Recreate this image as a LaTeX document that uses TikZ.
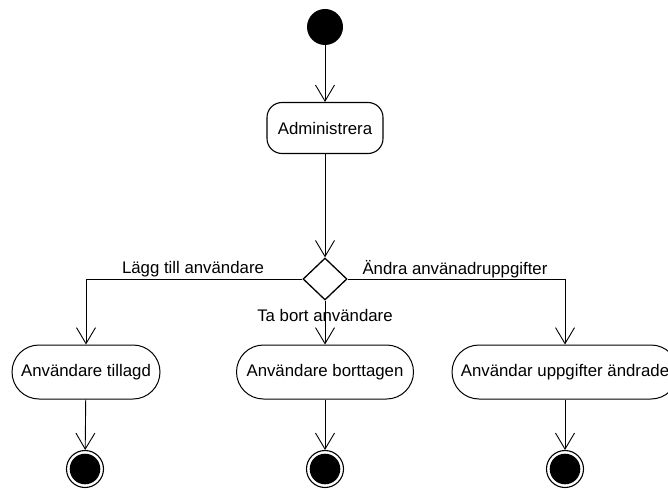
\documentclass[tikz,border=0pt]{standalone}
\usepackage{fontspec}
\setmainfont{Liberation Sans}
\usetikzlibrary{positioning, shapes.geometric, arrows.meta, calc}

\begin{document}
\begin{tikzpicture}[x=1pt, y=-1pt, >={Straight Barb[length=16pt,width=19pt]},
          act/.style={draw, rounded corners=15pt, font=\fontsize{16.8}{20}\selectfont, minimum height=51pt, align=center, line width=1.1pt},
          state/.style={draw, rounded corners=27pt, font=\fontsize{16.8}{20}\selectfont, minimum height=54pt, inner sep=2pt, line width=1pt},
          lbl/.style={font=\fontsize{16.8}{20}\selectfont, inner sep=0pt},
          flow/.style={->, line width=0.9pt}]
        \useasboundingbox (0,0) rectangle (668,489);
        \node[circle, fill=black, minimum size=36pt, inner sep=0pt] (start) at (325,27) {};
        \node[act, minimum width=116pt] (adm) at (325,128) {Administrera};
        \node[diamond, draw, line width=1.3pt, minimum width=44pt, minimum height=42pt, inner sep=0pt] (dec) at (325,279) {};
        \node[state, minimum width=148pt] (tillagd) at (86,372) {Användare tillagd};
        \node[state, minimum width=177pt] (borttagen) at (325,372) {Användare borttagen};
        \node[state, minimum width=226pt] (andrade) at (565,372) {Användar uppgifter ändrade};
        % slutnoder
        \foreach \n/\x in {slut1/85, slut2/325, slut3/565}
          \node[circle, draw, line width=1.1pt, minimum size=37pt, inner sep=0pt,
                path picture={\fill (path picture bounding box.center) circle (15.3pt);}] (\n) at (\x,469) {};
        \draw[flow] (start) -- (adm);
        \draw[flow] (adm) -- (dec);
        \draw[flow] (dec.west) -| (tillagd.north);
        \draw[flow] (dec.south) -- (borttagen.north);
        \draw[flow] (dec.east) -| (andrade.north);
        \draw[flow] (tillagd) -- (slut1);
        \draw[flow] (borttagen) -- (slut2);
        \draw[flow] (andrade) -- (slut3);
        \node[lbl] (l1) at (193,269) {Lägg till användare};
        \node[lbl] (l2) at (455,269) {Ändra använadruppgifter};
        \node[lbl] (l3) at (325,315) {Ta bort användare};
      \end{tikzpicture}
\end{document}
